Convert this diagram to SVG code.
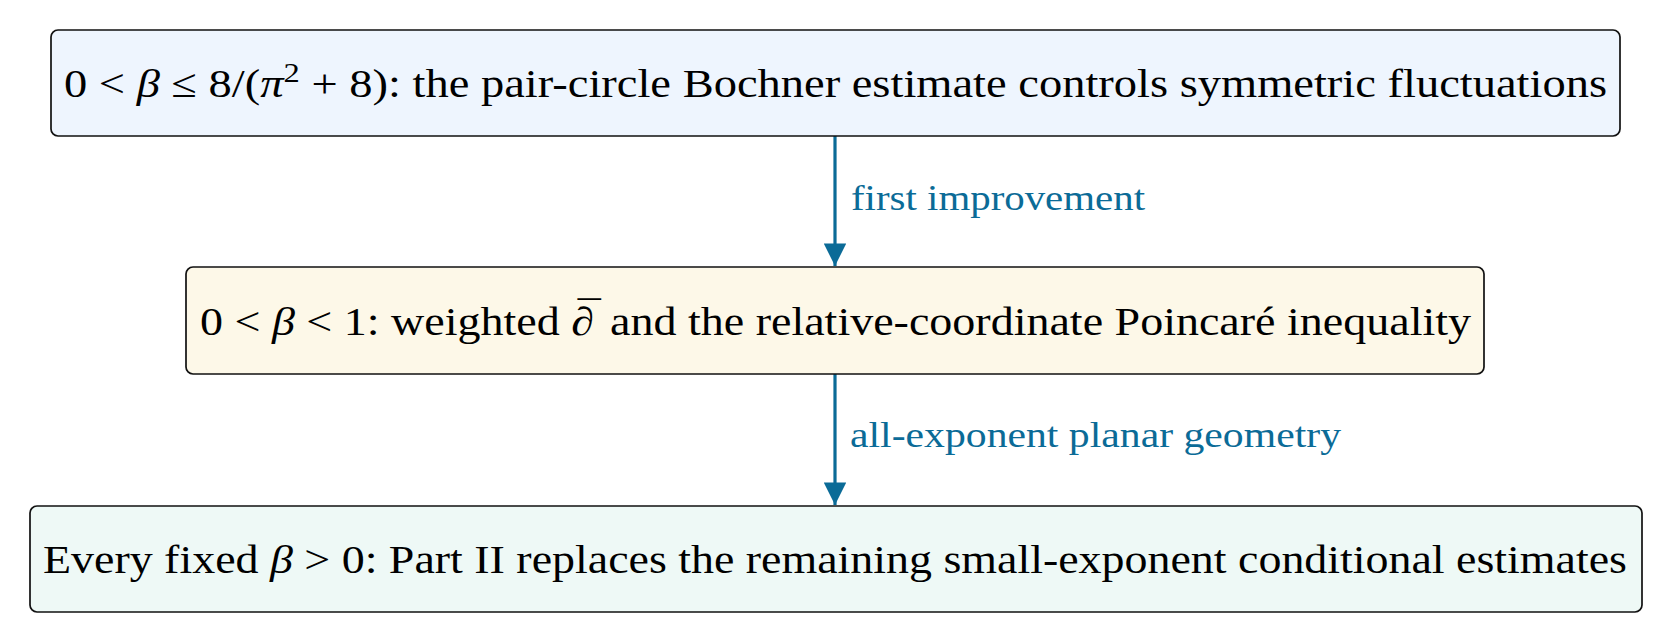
<svg xmlns="http://www.w3.org/2000/svg" width="1671" height="642" viewBox="0 0 1671 642">
<style>
  .box { stroke: #111; stroke-width: 1.7; }
  .t { font-family: "Liberation Serif", "DejaVu Serif", serif; font-size: 40px; fill: #000; }
  .lbl { font-family: "Liberation Serif", "DejaVu Serif", serif; font-size: 36px; fill: #0b6b97; }
  .conn { stroke: #0b6b97; stroke-width: 3.2; fill: none; }
  .it { font-style: italic; }
</style>
<defs>
  <marker id="arr" viewBox="0 0 10 10" refX="10" refY="5" markerWidth="9.4" markerHeight="7" markerUnits="strokeWidth" orient="auto">
    <path d="M0,0 L10,5 L0,10 Z" fill="#0b6b97"/>
  </marker>
</defs>
<rect width="1671" height="642" fill="#fff"/>
<g id="connectors">
  <line class="conn" x1="835" y1="136" x2="835" y2="266" marker-end="url(#arr)"/>
  <line class="conn" x1="835" y1="374" x2="835" y2="505" marker-end="url(#arr)"/>
  <text class="lbl" x="851" y="210" textLength="294" lengthAdjust="spacingAndGlyphs">first improvement</text>
  <text class="lbl" x="850" y="447" textLength="491" lengthAdjust="spacingAndGlyphs">all-exponent planar geometry</text>
</g>
<g id="node1">
  <rect class="box" x="51" y="30" width="1569" height="106" rx="7" fill="#eef5fe"/>
  <text class="t" x="64" y="97" textLength="1543" lengthAdjust="spacingAndGlyphs">0 &lt; <tspan class="it">β</tspan> ≤ 8/(<tspan class="it">π</tspan><tspan dy="-15" font-size="28">2</tspan><tspan dy="15"> + 8):  the pair-circle Bochner estimate controls symmetric fluctuations</tspan></text>
</g>
<g id="node2">
  <rect class="box" x="186" y="267" width="1298" height="107" rx="7" fill="#fdf8e8"/>
  <text class="t" x="200" y="335" textLength="1271" lengthAdjust="spacingAndGlyphs">0 &lt; <tspan class="it">β</tspan> &lt; 1:  weighted <tspan class="it">∂</tspan><tspan dx="-14" dy="-6">¯</tspan><tspan dx="-2" dy="6"> and the relative-coordinate Poincaré inequality</tspan></text>
</g>
<g id="node3">
  <rect class="box" x="30" y="506" width="1612" height="106" rx="7" fill="#eef9f6"/>
  <text class="t" x="43" y="573" textLength="1584" lengthAdjust="spacingAndGlyphs">Every fixed <tspan class="it">β</tspan> &gt; 0:  Part II replaces the remaining small-exponent conditional estimates</text>
</g>
</svg>
